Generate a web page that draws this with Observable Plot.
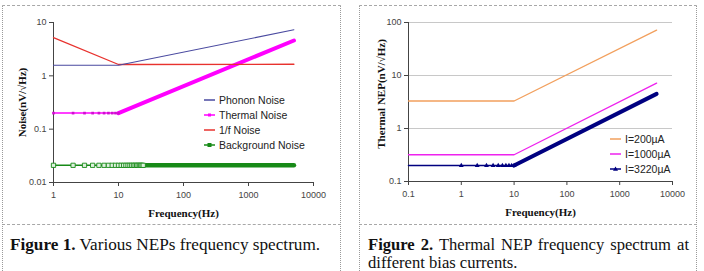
<!DOCTYPE html>
<html>
<head>
<meta charset="utf-8">
<script src="https://cdn.jsdelivr.net/npm/d3@7"></script>
<script src="https://cdn.jsdelivr.net/npm/@observablehq/plot@0.6"></script>
<style>
  body { margin: 0; background: #fff; }
  #page { position: relative; width: 704px; height: 271px; overflow: hidden; font-family: "Liberation Sans", Arial, sans-serif; }
  .chart { position: absolute; top: 0; }
  .chart svg { display: block; overflow: visible; background: transparent; }
  .box { position: absolute; border-left: 1px dotted #9a9a9a; border-right: 1px dotted #9a9a9a; border-top: 1px dashed #a8a8a8; pointer-events: none; }
  .legend { position: absolute; font-size: 10.5px; color: #222; }
  .legend .row { position: absolute; left: 0; height: 14px; display: flex; align-items: center; white-space: nowrap; }
  .legend .row svg { margin-right: 4px; }
  .caption { position: absolute; font-family: "Liberation Serif", "Times New Roman", serif; font-size: 16.6px; line-height: 16px; color: #111; }
  .caption b { font-weight: bold; }
  .justified { text-align: justify; text-align-last: justify; }
</style>
</head>
<body>
<div id="page">
  <div class="chart" id="left" style="left:0px"></div>
  <div class="chart" id="right" style="left:352px"></div>
  <div class="box" style="left:2px;top:5px;width:337px;height:219px"></div>
  <div class="box" style="left:2px;top:224px;width:337px;height:60px"></div>
  <div class="box" style="left:359px;top:5px;width:336px;height:219px"></div>
  <div class="box" style="left:359px;top:224px;width:336px;height:60px"></div>
  <div class="caption" style="left:10px;top:237px;width:325px;font-size:17.2px"><b>Figure 1.</b> Various NEPs frequency spectrum.</div>
  <div class="caption justified" style="left:368px;top:237px;width:321px"><b>Figure 2.</b> Thermal NEP frequency spectrum at</div>
  <div class="caption" style="left:368px;top:255px;width:321px">different bias currents.</div>
</div>
<script>
// ---- Figure 1: noise components vs frequency ----
const noiseFreq = [1, 10, 5000];                 // Hz, breakpoints of each curve
const phononNoise = [1.58, 1.58, 7.3];           // nV/√Hz
const thermalNoise = [0.2, 0.2, 4.6];
const flickerNoise = [5.2, 1.63, 1.65];
const backgroundNoise = [0.021, 0.021, 0.021];
const thermalMarkerFreq = [1, 2, 3, 4, 5, 6, 7, 8, 9, 10];
const backgroundMarkerFreq = [1, 2, 3, 4, 5, 6, 7, 8, 9, 10, 11, 12, 13, 14, 15, 16, 17, 18, 19, 20, 21, 22, 23, 24];
const noiseXTicks = [1, 10, 100, 1000, 10000];
const noiseYTicks = [0.01, 0.1, 1, 10];
const noiseNames = ["Phonon Noise", "Thermal Noise", "1/f Noise", "Background Noise"];
const noiseColors = ["#4a4aa0", "#ff00ff", "#e8322e", "#178a17"];

// ---- Figure 2: thermal NEP at three bias currents ----
const nepFreq = [0.1, 10, 5000];
const nep200 = [3.3, 3.3, 72];
const nep1000 = [0.32, 0.32, 7.2];
const nep3220 = [0.2, 0.2, 4.5];
const nepMarkerFreq = [1, 2, 3, 4, 5, 6, 7, 8, 9, 10];
const nepXTicks = [0.1, 1, 10, 100, 1000, 10000];
const nepYTicks = [0.1, 1, 10, 100];
const nepNames = ["I=200µA", "I=1000µA", "I=3220µA"];
const nepColors = ["#f2a05e", "#ee22ee", "#000080"];

const rows = (xs, ys) => xs.map((x, i) => ({x, y: ys[i]}));
const fmt = d => String(d);
const titleFont = {
  fontFamily: "Liberation Serif, Times New Roman, serif", fontWeight: "bold", fontSize: 11,
  fill: "#111", textAnchor: "middle", lineAnchor: "middle"
};
const axisStyle = {fontFamily: "Liberation Sans, Arial, sans-serif", fontSize: "9px", color: "#444", background: "transparent", overflow: "visible"};

const phonon = rows(noiseFreq, phononNoise);
const thermal = rows(noiseFreq, thermalNoise);
const flicker = rows(noiseFreq, flickerNoise);
const background = rows(noiseFreq, backgroundNoise);

const left = Plot.plot({
  width: 340, height: 220,
  marginLeft: 53, marginRight: 27, marginTop: 22, marginBottom: 38,
  x: {type: "log", domain: [noiseXTicks[0], noiseXTicks[noiseXTicks.length - 1]]},
  y: {type: "log", domain: [noiseYTicks[0], noiseYTicks[noiseYTicks.length - 1]]},
  style: axisStyle,
  marks: [
    Plot.axisX(noiseXTicks, {tickFormat: fmt, tickSize: 4, tickPadding: 5, label: null}),
    Plot.axisY(noiseYTicks, {tickFormat: fmt, tickSize: 4, tickPadding: 3, label: null}),
    Plot.ruleX(noiseXTicks.slice(0, 1), {stroke: "#444"}),
    Plot.ruleY(noiseYTicks.slice(0, 1), {stroke: "#444"}),
    // background noise: thin line, dense markers merge into a thick band
    Plot.line(background, {x: "x", y: "y", stroke: noiseColors[3], strokeWidth: 1.5}),
    Plot.line(background.slice(1), {x: "x", y: "y", stroke: noiseColors[3], strokeWidth: 4.5}),
    Plot.dot(backgroundMarkerFreq, {x: d => d, y: () => backgroundNoise[0], symbol: "square", r: 2.4, fill: "#dff0df", stroke: noiseColors[3], strokeWidth: 0.9}),
    // thermal noise
    Plot.line(thermal, {x: "x", y: "y", stroke: noiseColors[1], strokeWidth: 1.5}),
    Plot.line(thermal.slice(1), {x: "x", y: "y", stroke: noiseColors[1], strokeWidth: 4}),
    Plot.dot(thermalMarkerFreq, {x: d => d, y: () => thermalNoise[0], symbol: "square", r: 1.5, fill: "#d010d0"}),
    // 1/f and phonon noise
    Plot.line(flicker, {x: "x", y: "y", stroke: noiseColors[2], strokeWidth: 1.3}),
    Plot.line(phonon, {x: "x", y: "y", stroke: noiseColors[0], strokeWidth: 1.1}),
    Plot.text(["Frequency(Hz)"], {frameAnchor: "bottom", dy: 31, ...titleFont}),
    Plot.text(["Noise(nV/√Hz)"], {frameAnchor: "left", rotate: -90, dx: -31, ...titleFont})
  ]
});
document.getElementById("left").append(left);

const n200 = rows(nepFreq, nep200);
const n1000 = rows(nepFreq, nep1000);
const n3220 = rows(nepFreq, nep3220);

const right = Plot.plot({
  width: 352, height: 220,
  marginLeft: 56, marginRight: 32, marginTop: 22, marginBottom: 39,
  x: {type: "log", domain: [nepXTicks[0], nepXTicks[nepXTicks.length - 1]]},
  y: {type: "log", domain: [nepYTicks[0], nepYTicks[nepYTicks.length - 1]]},
  style: axisStyle,
  marks: [
    Plot.gridY(nepYTicks.slice(1), {stroke: "#c8c8c8", strokeOpacity: 1}),
    Plot.axisX(nepXTicks, {tickFormat: fmt, tickSize: 4, tickPadding: 5, label: null}),
    Plot.axisY(nepYTicks, {tickFormat: fmt, tickSize: 4, tickPadding: 3, label: null}),
    Plot.ruleX(nepXTicks.slice(0, 1), {stroke: "#444"}),
    Plot.ruleY(nepYTicks.slice(0, 1), {stroke: "#444"}),
    Plot.line(n200, {x: "x", y: "y", stroke: nepColors[0], strokeWidth: 1.3}),
    Plot.line(n1000, {x: "x", y: "y", stroke: nepColors[1], strokeWidth: 1.3}),
    Plot.line(n3220, {x: "x", y: "y", stroke: nepColors[2], strokeWidth: 1.5}),
    Plot.line(n3220.slice(1), {x: "x", y: "y", stroke: nepColors[2], strokeWidth: 4}),
    Plot.dot(nepMarkerFreq, {x: d => d, y: () => nep3220[0], symbol: "triangle", r: 1.8, fill: nepColors[2]}),
    Plot.text(["Frequency(Hz)"], {frameAnchor: "bottom", dy: 31, ...titleFont}),
    Plot.text(["Thermal NEP(nV/√Hz)"], {frameAnchor: "left", rotate: -90, dx: -27, dy: -8, ...titleFont})
  ]
});
document.getElementById("right").append(right);

// ---- legends ----
function legend(names, colors, markers, x, y0, step) {
  const box = document.createElement("div");
  box.className = "legend";
  box.style.left = x + "px";
  box.style.top = y0 + "px";
  names.forEach((name, i) => {
    const row = document.createElement("div");
    row.className = "row";
    row.style.top = (i * step - 7) + "px";
    const c = colors[i];
    let mark = "";
    if (markers[i] === "square") mark = `<rect x="4" y="5.5" width="3" height="3" fill="${c}"/>`;
    if (markers[i] === "bigsquare") mark = `<rect x="3.5" y="5" width="4" height="4" fill="${c}"/>`;
    if (markers[i] === "triangle") mark = `<path d="M5.5,4.5 L8,8.8 L3,8.8 Z" fill="${c}"/>`;
    row.innerHTML = `<svg width="11" height="14"><line x1="0" x2="11" y1="7" y2="7" stroke="${c}" stroke-width="1.5"/>${mark}</svg><span>${name}</span>`;
    box.append(row);
  });
  document.getElementById("page").append(box);
}
legend(noiseNames, noiseColors, ["", "square", "", "bigsquare"], 204, 100, 15);
legend(nepNames, nepColors, ["", "", "triangle"], 610, 139, 15);
</script>
</body>
</html>
